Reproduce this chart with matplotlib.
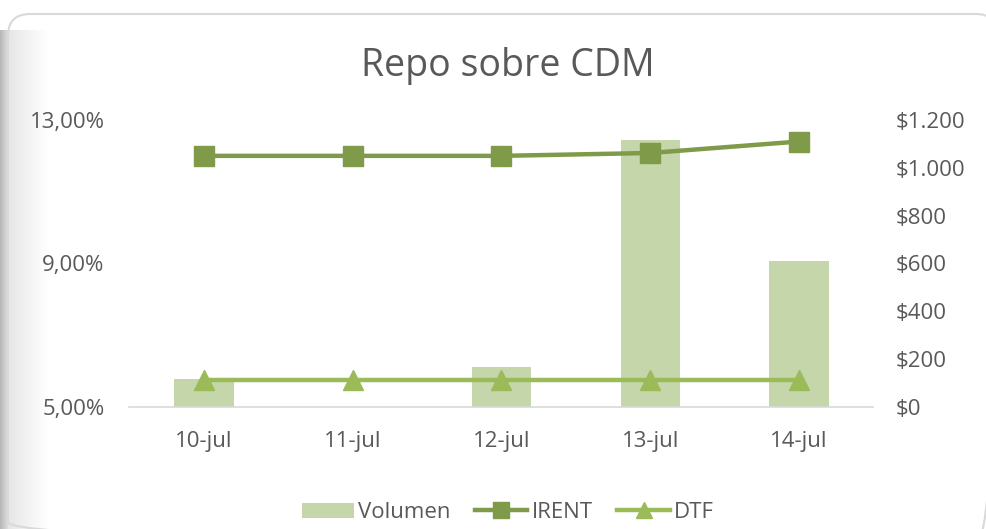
import numpy as np
import matplotlib
matplotlib.use("Agg")
from matplotlib import pyplot as plt
from matplotlib.patches import FancyBboxPatch
from matplotlib.ticker import FuncFormatter, MultipleLocator

# data
dates = ["10-jul", "11-jul", "12-jul", "13-jul", "14-jul"]
volumen = [117, 0, 167, 1116, 610]
irent = [12.00, 12.00, 12.00, 12.08, 12.40]
dtf = [5.75, 5.75, 5.75, 5.75, 5.75]

bar_color = "#C5D6AA"
irent_color = "#7F9A48"
dtf_color = "#9BBB59"
text_color = "#595959"

plt.rcParams["font.family"] = ["Open Sans", "DejaVu Sans"]

fig = plt.figure(figsize=(9.86, 5.29), dpi=100)

# background: frame with a soft shadow on the left
bg = fig.add_axes([0, 0, 1, 1], zorder=-10)
bg.set_xlim(0, 986)
bg.set_ylim(529, 0)
bg.axis("off")
xs = np.arange(60)
shade = np.where(xs < 8, 0.72 + 0.02 * xs, 0.90 + 0.10 * np.clip((xs - 8) / 40, 0, 1))
grad = np.tile(shade, (10, 1))
bg.imshow(grad, cmap="gray", vmin=0, vmax=1, extent=[0, 60, 529, 30],
          aspect="auto", interpolation="bicubic")
frame = FancyBboxPatch((8, 14), 990, 530, boxstyle="round,pad=0,rounding_size=22",
                       facecolor="none", edgecolor="#D9D9D9", linewidth=1.5)
bg.add_patch(frame)

x = np.arange(len(dates))

# bars on the right-hand scale, lines on the left-hand scale
ax = fig.add_axes([0.1313, 0.2306, 0.7546, 0.5426])
ax2 = ax.twinx()

ax.bar(x, volumen, width=0.4, color=bar_color, label="Volumen", zorder=2)
ax.set_ylim(0, 1200)
ax.yaxis.set_major_locator(MultipleLocator(200))
ax.yaxis.tick_right()
ax.yaxis.set_major_formatter(FuncFormatter(lambda v, p: "$" + f"{v:,.0f}".replace(",", ".")))

ax2.plot(x, irent, color=irent_color, linewidth=3.2, marker="s", markersize=14,
         label="IRENT", zorder=3)
ax2.plot(x, dtf, color=dtf_color, linewidth=3.2, marker="^", markersize=14,
         label="DTF", zorder=3)
ax2.set_ylim(5, 13)
ax2.set_yticks([5, 9, 13])
ax2.yaxis.tick_left()
ax2.yaxis.set_major_formatter(FuncFormatter(lambda v, p: f"{v:.2f}".replace(".", ",") + "%"))

ax.set_xlim(-0.5, len(dates) - 0.5)
ax.set_xticks(x)
ax.set_xticklabels(dates)

for a in (ax, ax2):
    for s in a.spines.values():
        s.set_visible(False)
    a.set_facecolor("none")
    a.tick_params(length=0, labelsize=16, labelcolor=text_color)
ax.spines["bottom"].set_visible(True)
ax.spines["bottom"].set_color("#D9D9D9")
ax.spines["bottom"].set_linewidth(1.2)
ax.tick_params(axis="y", pad=16)
ax.tick_params(axis="x", pad=17)
ax2.tick_params(axis="y", pad=18)

fig.text(0.515, 0.876, "Repo sobre CDM", ha="center", va="center",
         fontsize=27, color=text_color)

handles = ax.get_legend_handles_labels()[0] + ax2.get_legend_handles_labels()[0]
labels = ["Volumen", "IRENT", "DTF"]
fig.legend(handles, labels, loc="center", bbox_to_anchor=(0.515, 0.031), ncol=3,
           frameon=False, fontsize=16, labelcolor=text_color, handlelength=2.35,
           handletextpad=0.2, columnspacing=1.1, markerscale=0.85)

fig.savefig("out.png", dpi=100)
